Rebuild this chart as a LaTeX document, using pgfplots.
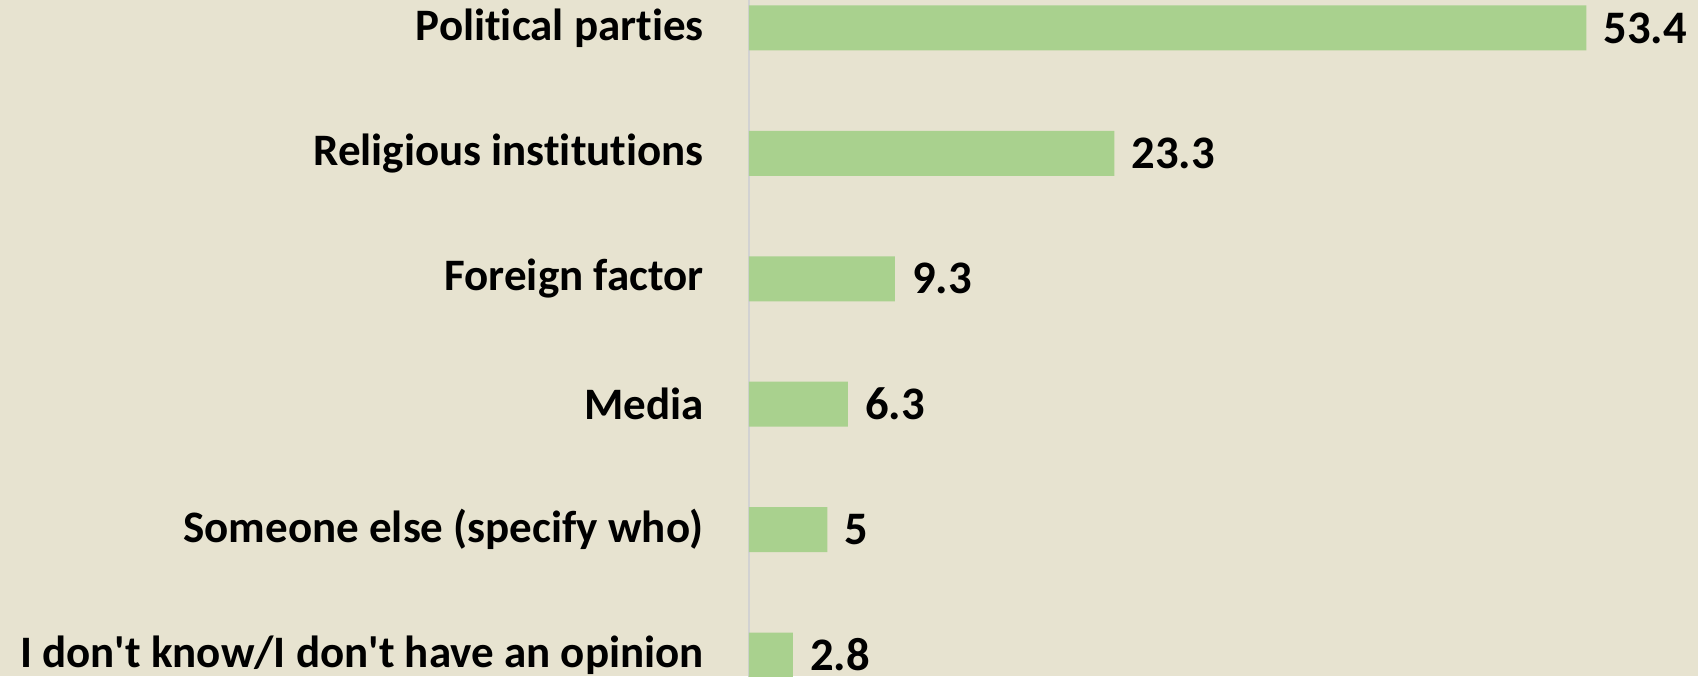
\documentclass[border=0pt]{standalone}
\usepackage{pgfplots}
\pgfplotsset{compat=1.18}
\usepackage{fontspec}
\setmainfont{Carlito}[Ligatures={NoCommon}]
\definecolor{bg}{HTML}{E7E3D0}
\definecolor{bar}{HTML}{A9D18E}
\definecolor{axisgray}{HTML}{D2D2D2}
\begin{document}
\begin{tikzpicture}
\fill[bg] (-374.5pt,-10.5pt) rectangle (474.5pt,327.5pt);
\useasboundingbox (-374.5pt,-10.5pt) rectangle (474.5pt,327.5pt);
\begin{axis}[
  at={(0,0)}, anchor=origin,
  scale only axis,
  width=470.4pt, height=376.2pt,
  xmin=0, xmax=60, ymin=-0.5, ymax=5.5,
  xbar, bar width=22.5pt,
  axis line style={draw=none},
  hide x axis,
  ytick={0,1,2,3,4,5},
  yticklabels={I don\textquotesingle t know/I don\textquotesingle t have an opinion, Someone else (specify who), Media, Foreign factor, Religious institutions, Political parties},
  major tick length=0pt,
  yticklabel style={font=\fontsize{22.5}{27}\selectfont\bfseries, anchor=east, inner sep=0pt, xshift=-22.5pt},
  point meta=explicit symbolic,
  nodes near coords,
  every node near coord/.append style={font=\fontsize{23.3}{28}\selectfont\bfseries, anchor=west, inner sep=0pt, xshift=8.5pt},
  clip=false,
]
\draw[axisgray, line width=1pt] (axis cs:0,-0.5) -- (axis cs:0,5.5);
\addplot[fill=bar, draw=none] table[x=v, y=y, meta=l] {
y v l
5 53.4 53.4
4 23.3 23.3
3 9.3 9.3
2 6.3 6.3
1 5 5
0 2.8 2.8
};
\end{axis}
\end{tikzpicture}
\end{document}
